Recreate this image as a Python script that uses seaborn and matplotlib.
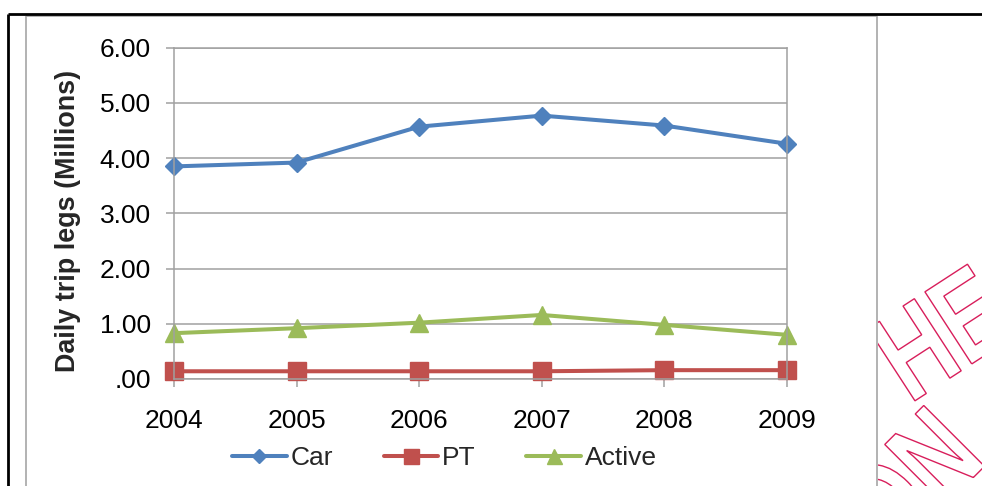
import pandas as pd
import matplotlib
matplotlib.use('Agg')
import matplotlib.pyplot as plt
import seaborn as sns
from matplotlib.lines import Line2D
from matplotlib.patches import PathPatch
from matplotlib.textpath import TextPath
from matplotlib.font_manager import FontProperties
from matplotlib.transforms import Affine2D, Bbox

# data
years = [2004, 2005, 2006, 2007, 2008, 2009]
car = [3.85, 3.92, 4.57, 4.77, 4.59, 4.26]
pt = [0.14, 0.14, 0.14, 0.14, 0.16, 0.16]
active = [0.83, 0.92, 1.02, 1.16, 0.98, 0.80]
modes = ['Car', 'PT', 'Active']
y_ticks = [0, 1, 2, 3, 4, 5, 6]

df = pd.DataFrame({'year': years * 3,
                   'legs': car + pt + active,
                   'mode': [m for m in modes for _ in years]})

sns.set_theme(style='white')
plt.rcParams['font.family'] = ['Liberation Sans', 'DejaVu Sans']

W, H = 982, 486
fig = plt.figure(figsize=(W / 100, H / 100), dpi=100)
ax = fig.add_axes([174 / W, 1 - 379 / H, (787 - 174) / W, (379 - 47.7) / H])

palette = {'Car': '#4f81bd', 'PT': '#c0504d', 'Active': '#9bbb59'}
markers = {'Car': 'D', 'PT': 's', 'Active': '^'}
sizes = {'Car': 9.2, 'PT': 13.5, 'Active': 13.5}

sns.lineplot(data=df, x='year', y='legs', hue='mode', style='mode',
             palette=palette, markers=markers, dashes=False,
             linewidth=2.9, legend=False, ax=ax)
for line, m in zip(ax.lines, modes):
    line.set_markersize(sizes[m])
    line.set_markeredgewidth(1)
    line.set_markeredgecolor(palette[m])
    line.set_clip_on(False)

# axes look (excel style)
grid_c = '#a0a0a0'
ax.set_xlim(years[0], years[-1])
ax.set_ylim(y_ticks[0], y_ticks[-1])
ax.set_xticks(years)
ax.set_xticklabels([str(y) for y in years])
ax.set_yticks(y_ticks)
ax.set_yticklabels([('%.2f' % v).lstrip('0') for v in y_ticks])
ax.yaxis.grid(True, color=grid_c, linewidth=1.1)
ax.set_axisbelow(True)
for s in ax.spines.values():
    s.set_color(grid_c)
    s.set_linewidth(1.1)
ax.tick_params(axis='both', direction='out', length=5.8, width=1.1,
               color=grid_c, labelsize=19, labelcolor='black')
ax.tick_params(axis='x', pad=15.5, bottom=True)
ax.tick_params(axis='y', pad=11, left=True)
ax.set_xlabel('')
ax.set_ylabel('Daily trip legs (Millions)', fontsize=19.4, fontweight='bold')
ax.yaxis.label.set_verticalalignment('center')
ax.yaxis.set_label_coords((68 - 174) / 613, (379 - 221) / 331.3)

# legend
handles = [Line2D([], [], color=palette[m], marker=markers[m], linewidth=2.9,
                  markersize=sizes[m] * 0.8, markeredgecolor=palette[m])
           for m in modes]
fig.legend(handles, modes, loc='center', ncol=3, frameon=False,
           bbox_to_anchor=(444.5 / W, 1 - 458 / H), fontsize=19,
           handlelength=2.08, handletextpad=0.15, columnspacing=1.9,
           borderpad=0, borderaxespad=0)

# page frame around the chart
def px_line(xs, ys, color, lw):
    fig.add_artist(Line2D([x / W for x in xs], [1 - y / H for y in ys],
                          transform=fig.transFigure, color=color,
                          linewidth=lw, solid_capstyle='butt'))

px_line([26, 26], [16, H], '#a6a6a6', 1.2)
px_line([26, 877], [16, 16], '#a6a6a6', 1.2)
px_line([877, 877], [16, H], '#a6a6a6', 1.2)
px_line([8, W], [14, 14], 'black', 2.0)
px_line([8, 8], [14, H], 'black', 2.0)

# stamp fragments on the right margin
clip = Bbox.from_extents(878, 0, W, H)
fp = FontProperties(family='Liberation Sans', weight='bold')
for txt, cx, cy, rot in [('HE', 942, 332, 33), ('ON', 908, 482, 45)]:
    tp = TextPath((0, 0), txt, size=125, prop=fp)
    ext = tp.get_extents()
    tr = (Affine2D().translate(-(ext.x0 + ext.x1) / 2, -(ext.y0 + ext.y1) / 2)
          .scale(0.75, 1.0).rotate_deg(rot).translate(cx, H - cy))
    patch = PathPatch(tp, transform=tr, facecolor='none',
                      edgecolor='#d81e5b', linewidth=1.0)
    patch.set_clip_box(clip)
    fig.add_artist(patch)

fig.savefig('out.png', dpi=100)
